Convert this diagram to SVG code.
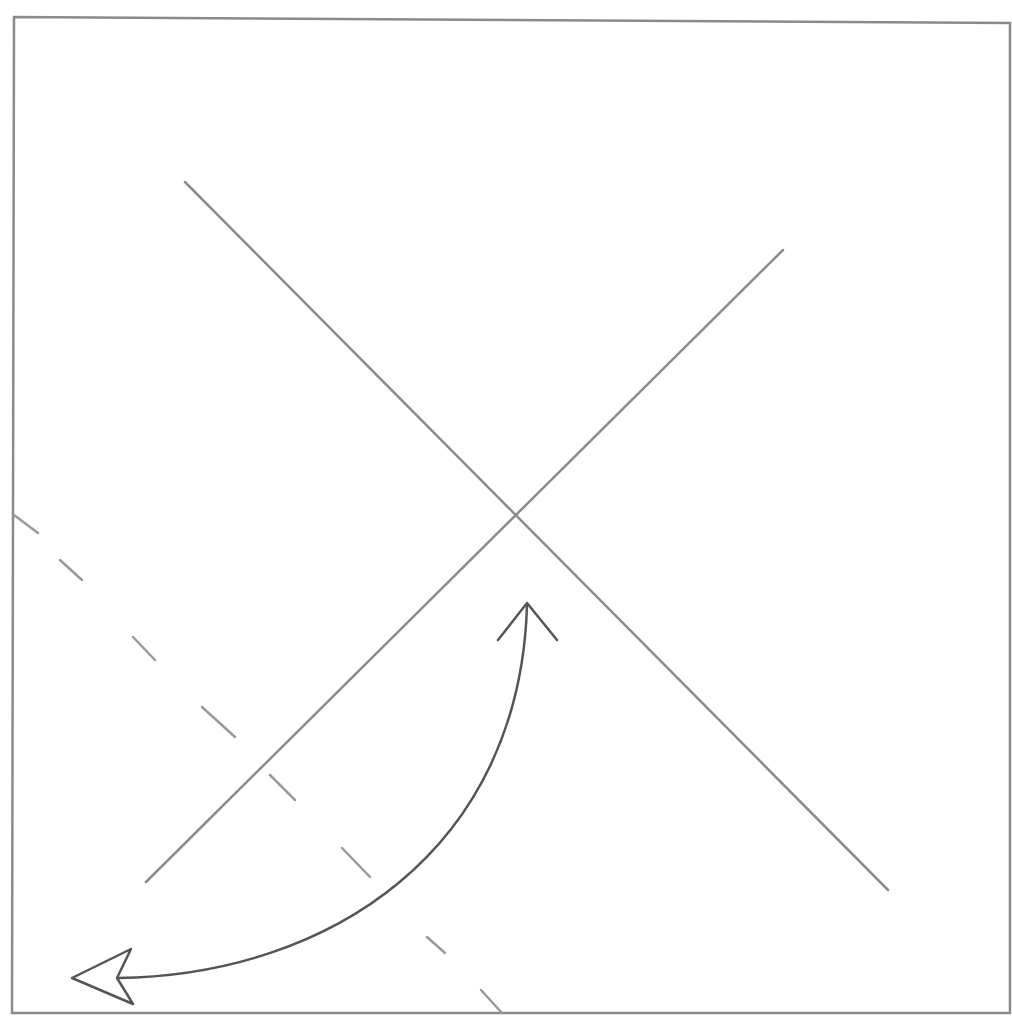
<svg xmlns="http://www.w3.org/2000/svg" width="1012" height="1020" viewBox="0 0 1012 1020">
<style>
.frame{fill:none;stroke:#8a8a8a;stroke-width:2.5}
.ln{fill:none;stroke:#8c8c8c;stroke-width:2.5;stroke-linecap:round}
.dash{fill:none;stroke:#9a9a9a;stroke-width:2.5;stroke-linecap:round}
.arc{fill:none;stroke:#555;stroke-width:2.5;stroke-linecap:round;stroke-linejoin:round}
</style>
<rect width="1012" height="1020" fill="#fff"/>
<polygon class="frame" points="14,17 1010,23 1010,1013 12,1013"/>
<g id="lines">
<line class="ln" x1="185" y1="182" x2="888" y2="890"/>
<line class="ln" x1="783" y1="250" x2="146" y2="882"/>
</g>
<g id="dashed">
<line class="dash" x1="14" y1="515" x2="38" y2="533"/>
<line class="dash" x1="60" y1="560" x2="82" y2="580"/>
<line class="dash" x1="133" y1="637" x2="155" y2="660"/>
<line class="dash" x1="202" y1="707" x2="235" y2="737"/>
<line class="dash" x1="270" y1="775" x2="295" y2="800"/>
<line class="dash" x1="342" y1="848" x2="370" y2="877"/>
<line class="dash" x1="427" y1="937" x2="445" y2="953"/>
<line class="dash" x1="481" y1="990" x2="502" y2="1013"/>
</g>
<g id="connectors">
<path class="arc" d="M118,978 C330,975 520,850 527,605"/>
<polyline class="arc" points="498,640 527,603 557,640"/>
<polygon class="arc" fill="#fff" style="fill:#fff" points="72,978 131,949 117,978 133,1004"/>
</g>
</svg>
